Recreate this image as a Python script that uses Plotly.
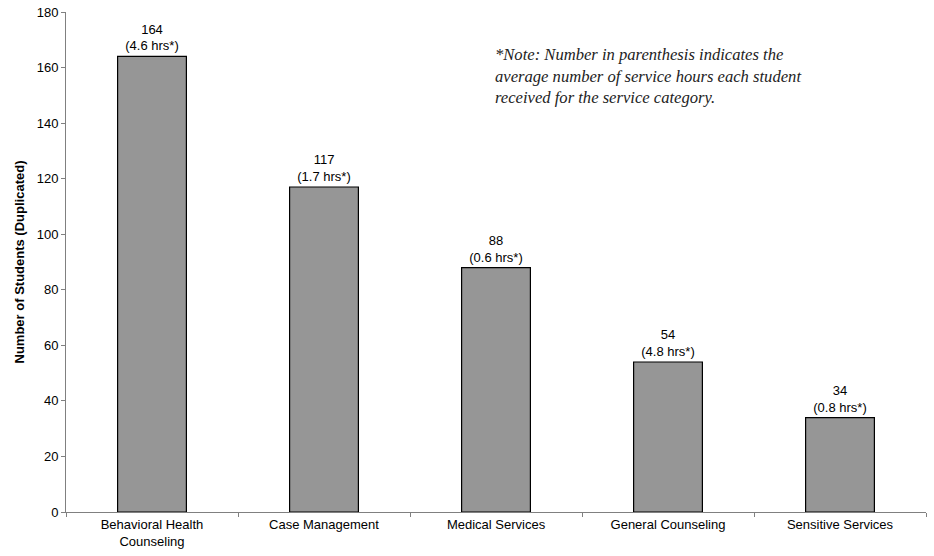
import plotly.graph_objects as go

categories = ["Behavioral Health<br>Counseling", "Case Management", "Medical Services",
              "General Counseling", "Sensitive Services"]
students = [164, 117, 88, 54, 34]
avg_hours = [4.6, 1.7, 0.6, 4.8, 0.8]
y_ticks = [0, 20, 40, 60, 80, 100, 120, 140, 160, 180]

labels = [f"{s}<br>({h} hrs*)" for s, h in zip(students, avg_hours)]

fig = go.Figure(go.Bar(
    x=categories, y=students, width=0.4,
    marker=dict(color="#969696", line=dict(color="black", width=1.2)),
    text=labels, textposition="outside", cliponaxis=False,
    textfont=dict(family="Liberation Sans, Arial", size=13, color="black"),
))

fig.update_layout(
    width=934, height=556,
    margin=dict(l=66, r=8, t=12, b=44),
    paper_bgcolor="white", plot_bgcolor="white",
    showlegend=False,
    font=dict(family="Liberation Sans, Arial", size=13, color="black"),
)
fig.update_xaxes(
    showline=True, linecolor="#808080", linewidth=1,
    ticks="outside", ticklen=4, tickcolor="#808080", tickson="boundaries",
    showgrid=False, tickfont=dict(size=13), automargin=False,
)
fig.update_yaxes(
    range=[0, 180], tickvals=y_ticks, showline=True, linecolor="#808080", linewidth=1,
    ticks="outside", ticklen=4, tickcolor="#808080", showgrid=False, zeroline=False,
    tickfont=dict(size=13), automargin=False,
    title=dict(text="<b>Number of Students (Duplicated)</b>", font=dict(size=13), standoff=9),
)
fig.add_annotation(
    xref="paper", yref="paper", x=0.496, y=0.937, xanchor="left", yanchor="top",
    align="left", showarrow=False,
    text="<i>*Note: Number in parenthesis indicates the<br>average number of service hours each student<br>received for the service category.</i>",
    font=dict(family="Liberation Serif, Times New Roman, serif", size=16.6, color="#222222"),
)
fig.write_html("out.html", post_script="document.body.style.margin='0';",
               config={"displayModeBar": False})
